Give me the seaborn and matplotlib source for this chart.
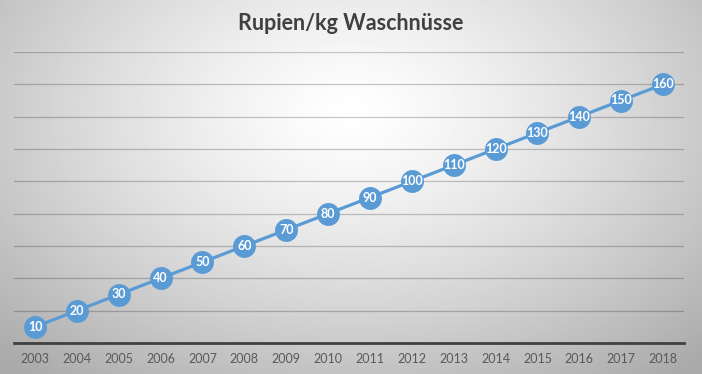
import numpy as np
import pandas as pd
import seaborn as sns
import matplotlib.pyplot as plt

years = list(range(2003, 2019))
prices = [10, 20, 30, 40, 50, 60, 70, 80, 90, 100, 110, 120, 130, 140, 150, 160]
title = "Rupien/kg Waschnüsse"

df = pd.DataFrame({"Jahr": years, "Rupien": prices})

sns.set_style("white")
plt.rcParams["font.family"] = ["Lato", "DejaVu Sans"]

fig = plt.figure(figsize=(7.02, 3.74), dpi=100)

# radial gradient background
bg = fig.add_axes([0, 0, 1, 1], zorder=-1)
gx, gy = np.meshgrid(np.linspace(0, 1, 400), np.linspace(0, 1, 300))
dist = np.sqrt(((gx - 0.5) / 0.72) ** 2 + ((gy - 0.3) / 0.9) ** 2)
shade = 1.0 - 0.33 * np.clip(dist, 0, 1) ** 1.3
bg.imshow(shade, cmap="gray", vmin=0, vmax=1, aspect="auto", extent=[0, 1, 1, 0])
bg.axis("off")

ax = fig.add_axes([14 / 702, 1 - 343 / 374, 670 / 702, 291 / 374])
ax.patch.set_alpha(0)

sns.lineplot(data=df, x="Jahr", y="Rupien", ax=ax, color="#5b9bd5", linewidth=2.3,
             marker="o", markersize=16.5, markeredgewidth=0, zorder=3)

for x, y in zip(years, prices):
    ax.text(x, y, str(y), ha="center", va="center", color="white",
            fontsize=9, fontweight="bold", zorder=4)

ax.set_xlim(2002.5, 2018.5)
ax.set_ylim(0, 180)
ax.set_yticks(range(20, 181, 20))
ax.yaxis.grid(True, color="black", alpha=0.22, linewidth=0.9)
ax.set_yticklabels([])
ax.tick_params(axis="y", length=0)
ax.set_xticks(years)
ax.set_xticklabels([str(y) for y in years], color="#595959", fontsize=9)
ax.tick_params(axis="x", length=0, pad=7)
ax.set_xlabel("")
ax.set_ylabel("")
for s in ["top", "right", "left"]:
    ax.spines[s].set_visible(False)
ax.spines["bottom"].set_color("#404040")
ax.spines["bottom"].set_linewidth(2)

fig.text(0.5, 1 - 23 / 374, title, ha="center", va="center", fontsize=15.5,
         fontweight="bold", color="#404040")

fig.savefig("out.png", dpi=100)
